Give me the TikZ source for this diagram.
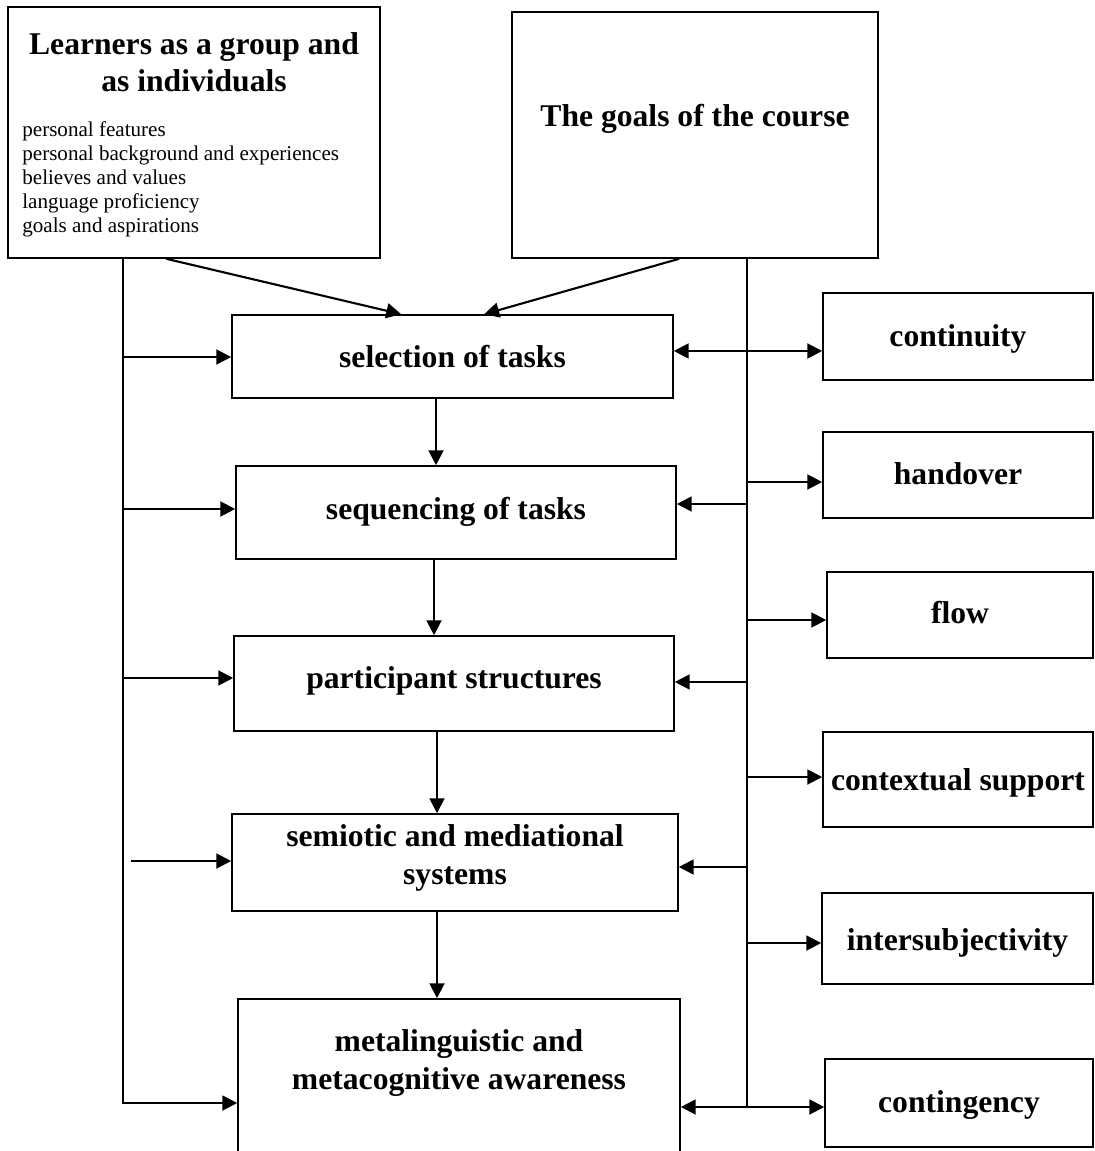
\documentclass[tikz,border=0pt]{standalone}
\usepackage{fontspec}
\setmainfont{Liberation Serif}
\usetikzlibrary{arrows.meta,calc}

\tikzset{
  frame/.style={draw, line width=0.9pt, inner sep=0pt},
  head/.style={font=\bfseries\fontsize{18}{21.3}\selectfont, align=center, anchor=base, inner sep=0pt},
  small/.style={font=\fontsize{12}{13.8}\selectfont, align=left, anchor=base west, inner sep=0pt},
  plain/.style={line width=1.2pt},
  link/.style={line width=1.2pt, -{Triangle[length=8.5pt,width=8.5pt]}},
  both/.style={line width=1.2pt, {Triangle[length=8.5pt,width=8.5pt]}-{Triangle[length=8.5pt,width=8.5pt]}},
}

% \panel{name}{left}{top}{right}{bottom}: an empty framed box given by its corners
\newcommand\panel[5]{%
  \node[frame, minimum width={(#4-#2)*0.02cm}, minimum height={(#5-#3)*0.02cm}]
    (#1) at ({(#2+#4)/2},{(#3+#5)/2}) {};}

\begin{document}
\begin{tikzpicture}[x=0.02cm, y=-0.02cm]
  \useasboundingbox (0,0) rectangle (1094,1151);
  \clip (0,0) rectangle (1094,1151);

  % boxes
  \panel{L}{8}{7}{380}{258}
  \panel{G}{512}{12}{878}{258}
  \panel{sel}{232}{315}{673}{398}
  \panel{seq}{236}{466}{676}{559}
  \panel{part}{234}{636}{674}{731}
  \panel{semi}{232}{814}{678}{911}
  \panel{meta}{238}{999}{680}{1210}
  \panel{cont}{823}{293}{1093}{380}
  \panel{hand}{823}{432}{1093}{518}
  \panel{flow}{827}{572}{1093}{658}
  \panel{ctx}{823}{732}{1093}{827}
  \panel{inter}{822}{893}{1093}{984}
  \panel{contg}{825}{1059}{1093}{1147}

  % texts (multi-line nodes are placed by the baseline of their last line)
  \node[head] (Lt) at (L |- 0,92) {Learners as a group and\\as individuals};
  \node[small] (Ll) at (22,233) {personal features\\personal background and experiences\\believes and values\\language proficiency\\goals and aspirations};
  \node[head] (Gt) at (G |- 0,127) {The goals of the course};
  \node[head] (selT) at (sel |- 0,368) {selection of tasks};
  \node[head] (seqT) at (seq |- 0,519) {sequencing of tasks};
  \node[head] (partT) at (part |- 0,688) {participant structures};
  \node[head] (semiT) at (semi |- 0,884) {semiotic and mediational\\systems};
  \node[head] (metaT) at (meta |- 0,1089) {metalinguistic and\\metacognitive awareness};
  \node[head] (contT) at (cont |- 0,347) {continuity};
  \node[head] (handT) at (hand |- 0,484) {handover};
  \node[head] (flowT) at (flow |- 0,623) {flow};
  \node[head] (ctxT) at (ctx |- 0,790) {contextual support};
  \node[head] (interT) at (inter |- 0,950) {intersubjectivity};
  \node[head] (contgT) at (contg |- 0,1112) {contingency};

  % left spine from the learners box
  \coordinate (lsp) at ($(L.south west)+(116,0)$);
  \coordinate (semiFrom) at (131,861);
  \draw[link] (lsp) |- (meta.west |- 0,1103);
  \draw[link] (lsp |- 0,357) -- (sel.west |- 0,357);
  \draw[link] (lsp |- 0,509) -- (seq.west |- 0,509);
  \draw[link] (lsp |- 0,678) -- (part.west |- 0,678);
  \draw[link] (semiFrom) -- (semi.west |- semiFrom);

  % right spine from the goals box
  \coordinate (rsp) at ($(G.south west)+(236,0)$);
  \draw[plain] (rsp) -- (rsp |- 0,1107);
  \draw[both] (sel.east |- 0,351) -- (cont.west |- 0,351);
  \draw[link] (rsp |- 0,482) -- (hand.west |- 0,482);
  \draw[link] (rsp |- 0,504) -- (seq.east |- 0,504);
  \draw[link] (rsp |- 0,620) -- (flow.west |- 0,620);
  \draw[link] (rsp |- 0,682) -- (part.east |- 0,682);
  \draw[link] (rsp |- 0,777) -- (ctx.west |- 0,777);
  \draw[link] (rsp |- 0,867) -- (semi.east |- 0,867);
  \draw[link] (rsp |- 0,943) -- (inter.west |- 0,943);
  \draw[both] (meta.east |- 0,1107) -- (contg.west |- 0,1107);

  % diagonals into the first task box
  \draw[link] ($(L.south west)+(159,0)$) -- ($(sel.north west)+(170,0)$);
  \draw[link] ($(G.south west)+(168,0)$) -- ($(sel.north west)+(253,0)$);

  % chain of task boxes
  \draw[link] (sel.south -| 436,0) -- (seq.north -| 436,0);
  \draw[link] (seq.south -| 434,0) -- (part.north -| 434,0);
  \draw[link] (part.south -| 437,0) -- (semi.north -| 437,0);
  \draw[link] (semi.south -| 437,0) -- (meta.north -| 437,0);
\end{tikzpicture}
\end{document}
